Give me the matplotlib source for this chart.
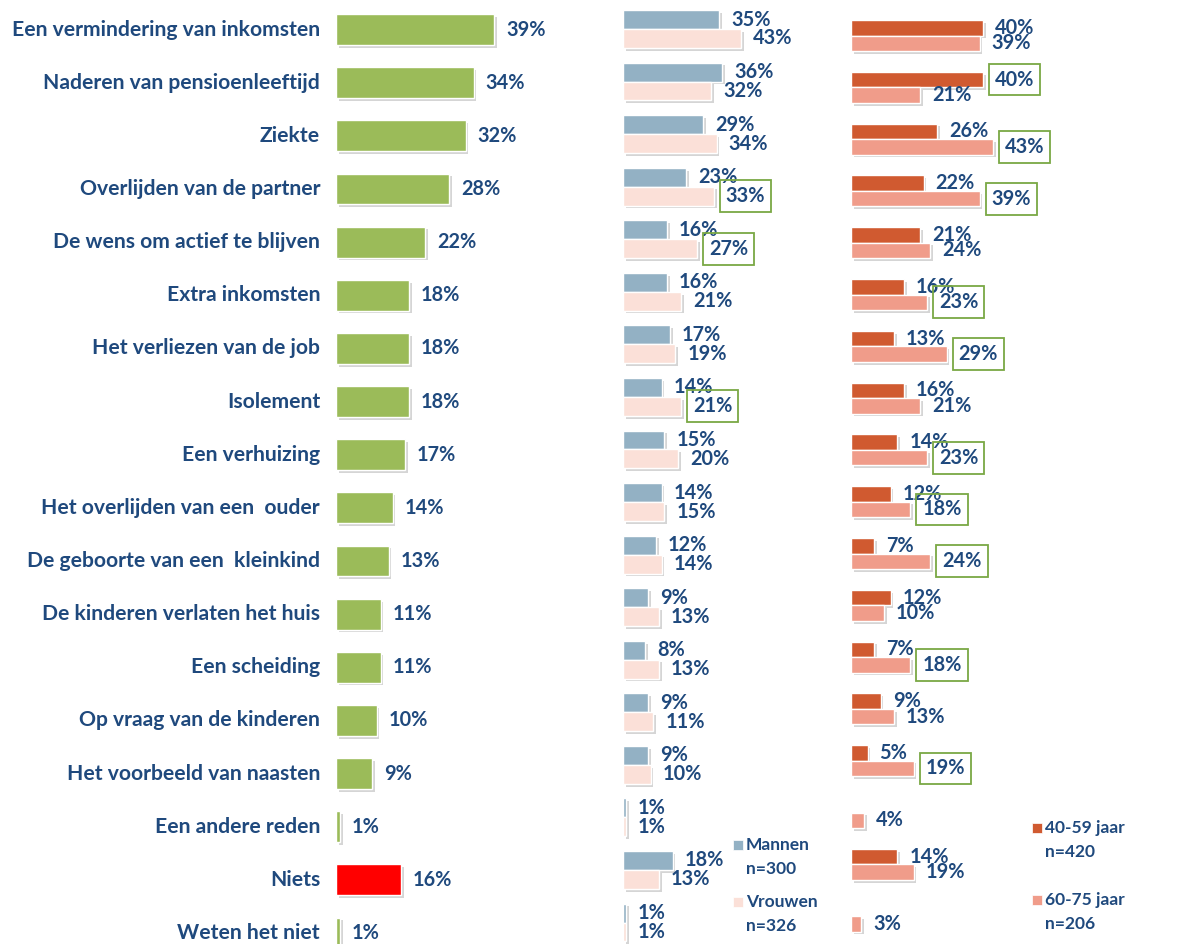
import matplotlib
matplotlib.use("Agg")
import matplotlib.pyplot as plt
import matplotlib.patheffects as pe
from matplotlib.patches import Rectangle

labels = ["Een vermindering van inkomsten", "Naderen van pensioenleeftijd", "Ziekte",
          "Overlijden van de partner", "De wens om actief te blijven", "Extra inkomsten",
          "Het verliezen van de job", "Isolement", "Een verhuizing",
          "Het overlijden van een  ouder", "De geboorte van een  kleinkind",
          "De kinderen verlaten het huis", "Een scheiding", "Op vraag van de kinderen",
          "Het voorbeeld van naasten", "Een andere reden", "Niets", "Weten het niet"]
total = [39, 34, 32, 28, 22, 18, 18, 18, 17, 14, 13, 11, 11, 10, 9, 1, 16, 1]
mannen = [35, 36, 29, 23, 16, 16, 17, 14, 15, 14, 12, 9, 8, 9, 9, 1, 18, 1]
vrouwen = [43, 32, 34, 33, 27, 21, 19, 21, 20, 15, 14, 13, 13, 11, 10, 1, 13, 1]
age_40_59 = [40, 40, 26, 22, 21, 16, 13, 16, 14, 12, 7, 12, 7, 9, 5, None, 14, None]
age_60_75 = [39, 21, 43, 39, 24, 23, 29, 21, 23, 18, 24, 10, 18, 13, 19, 4, 19, 3]
# significance boxes (row indices)
boxed_vrouwen = [3, 4, 7]
boxed_40_59 = [1]
boxed_60_75 = [2, 3, 5, 6, 8, 9, 10, 12, 14]

W, H = 1178, 944
FONT = "Lato"
TXT = "#1F497D"
GREEN = "#9BBB59"
RED = "#FF0000"
C_M = "#93B1C4"
C_V = "#FBE0D8"
C_A1 = "#D05A30"
C_A2 = "#F09C8A"
BOXC = "#7AA844"

fig = plt.figure(figsize=(W / 100, H / 100), dpi=100)


def make_ax(x0, pxper, row0, spacing, xmax=50):
    width = pxper * xmax
    ax = fig.add_axes([x0 / W, 0, width / W, 1])
    ax.set_xlim(0, xmax)
    ax.set_ylim((H - row0) / spacing, -row0 / spacing)
    ax.axis("off")
    return ax


shadow = [pe.SimplePatchShadow(offset=(2, -2), alpha=0.35, shadow_rgbFace="#888888"), pe.Normal()]


def draw_bars(ax, ys, vals, color, height, boxed=(), fs=14.3, colors=None):
    for i, (y, v) in enumerate(zip(ys, vals)):
        if v is None:
            continue
        c = colors[i] if colors else color
        b = ax.barh(y, v, height=height, color=c, edgecolor="white", linewidth=1.0)
        for p in b.patches:
            p.set_path_effects(shadow)
        kw = {}
        if i in boxed:
            kw["bbox"] = dict(boxstyle="square,pad=0.3", fc="none", ec=BOXC, lw=1.3)
        ax.annotate(f"{v}%", xy=(v, y), xytext=(12, 0), textcoords="offset pixels",
                    ha="left", va="center", fontsize=fs, fontweight="bold",
                    color=TXT, family=FONT, **kw)


n = len(labels)
rows = list(range(n))

# Left panel
axL = make_ax(336, 4.05, 29.5, 53.15)
left_colors = [RED if lab == "Niets" else GREEN for lab in labels]
draw_bars(axL, rows, total, GREEN, 0.58, colors=left_colors)
for i, lab in enumerate(labels):
    axL.annotate(lab, xy=(0, i), xytext=(-16, 0), textcoords="offset pixels",
                 ha="right", va="center", fontsize=15.2, fontweight="bold",
                 color=TXT, family=FONT)

# Middle panel
axM = make_ax(623, 2.75, 29, 52.56)
hM = 0.36
draw_bars(axM, [r - hM / 2 for r in rows], mannen, C_M, hM)
draw_bars(axM, [r + hM / 2 for r in rows], vrouwen, C_V, hM, boxed=boxed_vrouwen)

# Right panel
axR = make_ax(851, 3.3, 35.5, 51.8)
hR = 0.30
draw_bars(axR, [r - hR / 2 for r in rows], age_40_59, C_A1, hR, boxed=boxed_40_59)
draw_bars(axR, [r + hR / 2 for r in rows], age_60_75, C_A2, hR, boxed=boxed_60_75)


# Legends
def legend_item(x, y, color, line1, line2):
    s = 10
    fig.add_artist(Rectangle((x / W, 1 - (y + s / 2) / H), s / W, s / H,
                             transform=fig.transFigure, facecolor=color,
                             edgecolor="white", lw=0.5))
    fig.text((x + s + 3) / W, 1 - y / H, line1, ha="left", va="center",
             fontsize=12.5, fontweight="bold", color=TXT, family=FONT)
    fig.text((x + s + 3) / W, 1 - (y + 24) / H, line2, ha="left", va="center",
             fontsize=12.5, fontweight="bold", color=TXT, family=FONT)


legend_item(733, 845, C_M, "Mannen", "n=300")
legend_item(733, 902, C_V, "Vrouwen", "n=326")
legend_item(1032, 828, C_A1, "40-59 jaar", "n=420")
legend_item(1032, 900, C_A2, "60-75 jaar", "n=206")

fig.savefig("out.png", dpi=100, facecolor="white")
